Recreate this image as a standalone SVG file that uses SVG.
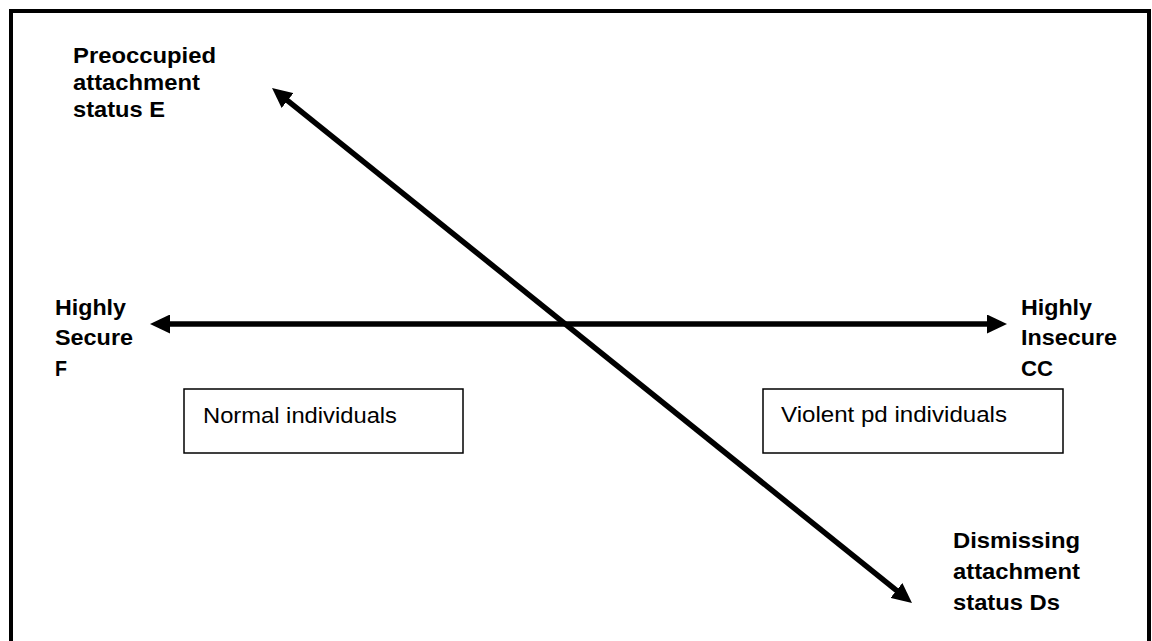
<svg xmlns="http://www.w3.org/2000/svg" width="1152" height="641" viewBox="0 0 1152 641">
<style>
.b{font-family:"Liberation Sans",Arial,sans-serif;font-weight:bold;font-size:22px;fill:#000}
.r{font-family:"Liberation Sans",Arial,sans-serif;font-size:22px;fill:#000}
.box{fill:#fff;stroke:#000;stroke-width:1.5}
.ax{stroke:#000;stroke-width:5.5;fill:none}
</style>
<defs>
<marker id="ah" viewBox="0 0 20 19" refX="10" refY="9.5" markerWidth="20" markerHeight="19" markerUnits="userSpaceOnUse" orient="auto-start-reverse">
<path d="M0,0 L20,9.5 L0,19 z" fill="#000"/>
</marker>
</defs>
<rect x="0" y="0" width="1152" height="641" fill="#fff"/>
<rect id="frame" x="11" y="11" width="1138" height="650" fill="none" stroke="#000" stroke-width="4"/>
<g id="connectors">
<line class="ax" x1="160" y1="324" x2="997" y2="324" marker-start="url(#ah)" marker-end="url(#ah)"/>
<line class="ax" x1="279.8" y1="94.3" x2="904.2" y2="596.7" marker-start="url(#ah)" marker-end="url(#ah)"/>
</g>
<g id="preoccupied">
<text class="b" x="73" y="63" textLength="143" lengthAdjust="spacingAndGlyphs">Preoccupied</text>
<text class="b" x="73" y="90" textLength="127" lengthAdjust="spacingAndGlyphs">attachment</text>
<text class="b" x="73" y="117" textLength="92" lengthAdjust="spacingAndGlyphs">status E</text>
</g>
<g id="secure">
<text class="b" x="55" y="315" textLength="71" lengthAdjust="spacingAndGlyphs">Highly</text>
<text class="b" x="55" y="345" textLength="78" lengthAdjust="spacingAndGlyphs">Secure</text>
<text class="b" x="55" y="376" textLength="12" lengthAdjust="spacingAndGlyphs">F</text>
</g>
<g id="insecure">
<text class="b" x="1021" y="315" textLength="71" lengthAdjust="spacingAndGlyphs">Highly</text>
<text class="b" x="1021" y="345" textLength="96" lengthAdjust="spacingAndGlyphs">Insecure</text>
<text class="b" x="1021" y="376" textLength="32" lengthAdjust="spacingAndGlyphs">CC</text>
</g>
<g id="dismissing">
<text class="b" x="953" y="548" textLength="127" lengthAdjust="spacingAndGlyphs">Dismissing</text>
<text class="b" x="953" y="579" textLength="127" lengthAdjust="spacingAndGlyphs">attachment</text>
<text class="b" x="953" y="610" textLength="107" lengthAdjust="spacingAndGlyphs">status Ds</text>
</g>
<g id="normal">
<rect class="box" x="184" y="389" width="279" height="64"/>
<text class="r" x="203" y="422.5" textLength="194" lengthAdjust="spacingAndGlyphs">Normal individuals</text>
</g>
<g id="violent">
<rect class="box" x="763" y="389" width="300" height="64"/>
<text class="r" x="781" y="422" textLength="226" lengthAdjust="spacingAndGlyphs">Violent pd individuals</text>
</g>
</svg>
